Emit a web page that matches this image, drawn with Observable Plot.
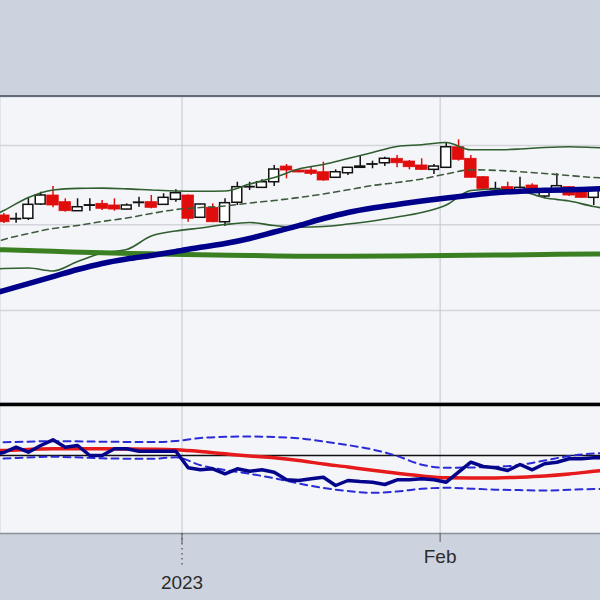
<!DOCTYPE html>
<html><head><meta charset="utf-8">
<script src="https://cdn.jsdelivr.net/npm/d3@7"></script>
<script src="https://cdn.jsdelivr.net/npm/@observablehq/plot@0.6"></script>
<style>
html,body{margin:0;padding:0;background:#cdd3de;width:600px;height:600px;overflow:hidden;font-family:"Liberation Sans",Arial,sans-serif}
#top{height:95px;border-bottom:2px solid #646b77}
svg{display:block}
</style></head><body>
<div id="top"></div><div id="upper"></div><div id="lower"></div>
<script>
// ---- candles (one per trading day, index 0..48) ----
const open  = [31.52,31.05,31.12,32.85,33.94,33.13,32.04,32.70,32.93,32.73,32.24,33.03,33.13,32.81,33.42,33.94,31.24,32.45,30.70,33.06,34.93,34.87,35.55,37.45,36.97,36.97,36.76,36.09,36.64,37.30,37.68,37.85,38.39,38.06,37.58,37.05,37.30,39.79,38.39,36.16,34.68,34.95,34.55,35.15,33.82,34.34,34.95,34.34,33.66];
const high  = [31.76,31.79,33.66,34.34,35.03,33.54,33.54,33.54,33.33,33.54,32.93,33.73,33.94,34.15,34.63,34.00,32.90,32.93,33.54,35.55,35.55,35.84,37.58,37.70,37.00,37.45,37.98,37.05,37.33,38.67,38.10,38.58,38.79,38.18,38.39,37.70,40.28,40.69,38.79,36.20,35.55,35.55,36.16,35.36,34.58,36.57,34.98,34.38,34.75];
const low   = [30.55,30.58,30.91,32.73,32.45,31.92,32.00,32.04,32.12,32.04,32.20,32.52,32.33,32.73,33.13,30.70,31.20,30.65,30.18,32.73,34.55,34.85,35.03,35.96,36.70,36.36,35.67,36.05,36.36,37.28,37.18,37.45,37.30,37.05,36.97,36.48,37.28,38.10,36.07,34.70,34.34,34.34,34.52,34.34,33.54,34.32,33.82,33.62,32.73];
const close = [30.70,31.09,32.81,33.94,32.73,32.04,32.52,32.75,32.33,32.24,32.73,33.08,32.45,33.66,34.22,31.12,32.85,30.70,33.01,34.95,34.97,35.55,37.09,36.97,36.73,36.57,35.76,36.76,37.30,37.45,37.72,38.39,37.85,37.37,37.05,37.45,39.79,38.27,36.09,34.75,34.72,34.55,34.87,34.55,34.55,35.07,33.94,33.66,34.55];

// ---- overlays (sampled at trading-day indices) ----
const bandIdx = [-1,0,2,4,6,8,10,12,14,16,18,20,22,24,26,28,30,32,34,36,38,40,42,44,46,48,49];
const bbUpper = [31.39,32.12,33.70,34.61,34.81,34.83,34.75,34.61,34.49,34.46,34.49,35.33,36.12,37.15,37.70,38.42,39.15,39.88,40.09,40.36,39.48,39.48,39.58,39.76,39.85,39.76,39.70];
const bbMid   = [28.12,28.61,29.33,29.94,30.30,30.79,31.21,31.76,32.24,32.48,32.67,33.03,33.33,33.70,34.12,34.63,35.15,35.52,35.94,36.55,37.05,36.99,36.82,36.61,36.36,36.12,36.06];
const bbLower = [24.97,25.09,25.15,24.79,25.94,26.97,27.39,29.03,29.64,30.00,30.42,30.67,30.30,30.10,30.18,30.48,30.85,31.33,31.88,32.79,34.55,34.70,34.49,33.66,33.27,32.61,32.36];
const maBlue  = [22.00,22.42,23.27,24.12,24.97,25.70,26.24,26.67,27.15,27.67,28.12,28.73,29.52,30.30,31.15,31.88,32.42,32.85,33.27,33.64,33.98,34.28,34.45,34.57,34.63,34.73,34.77];
const greenIdx = [-1,0,4,8,12,16,20,24,28,32,36,40,44,48,49];
const maGreen  = [27.39,27.36,27.18,26.99,26.87,26.75,26.67,26.59,26.58,26.61,26.66,26.72,26.79,26.86,26.87];
const priceGrid = [20, 30.39, 40];

// ---- lower indicator ----
const oscIdx = [-1,0,1,2,3,4,5,6,7,8,9,10,11,12,13,14,15,16,17,18,19,20,21,22,23,24,25,26,27,28,29,30,31,32,33,34,35,36,37,38,39,40,41,42,43,44,45,46,47,48,49];
const osc = [0.10,0.30,0.83,0.33,1.00,1.57,0.83,1.00,0.00,0.00,0.67,0.67,0.43,0.43,0.43,0.43,-1.23,-1.43,-1.33,-1.83,-1.33,-1.57,-1.43,-1.67,-2.43,-2.50,-2.33,-2.17,-3.00,-2.50,-2.60,-2.67,-2.90,-2.43,-2.43,-2.33,-2.43,-2.67,-1.67,-0.67,-1.10,-1.23,-1.50,-0.90,-1.43,-0.83,-0.67,-0.33,-0.33,-0.23,-0.20];
const sigIdx = [-1,0,4,8,12,14,16,18,20,22,24,26,28,30,32,34,36,38,40,42,44,46,48,49];
const signal = [0.47,0.50,0.67,0.67,0.63,0.57,0.40,0.17,-0.05,-0.23,-0.50,-0.85,-1.15,-1.48,-1.78,-2.05,-2.23,-2.25,-2.24,-2.17,-2.05,-1.85,-1.58,-1.45];
const envUp  = [1.32,1.33,1.43,1.38,1.34,1.45,1.75,1.87,1.90,1.85,1.73,1.40,1.04,0.60,-0.05,-0.92,-1.22,-1.20,-1.13,-0.95,-0.50,-0.05,0.20,0.25];
const envLo  = [-0.35,-0.30,-0.13,-0.28,-0.33,-0.18,-0.97,-1.45,-1.83,-2.28,-2.80,-3.25,-3.55,-3.73,-3.60,-3.32,-3.23,-3.32,-3.42,-3.46,-3.50,-3.43,-3.35,-3.33];

// ---- x-axis ticks: first candle of each period ----
const tickLabels = ["2023", "Feb"];
const tickFirst  = [15, 36];

const xDomain = [-0.27, 48.55];
const priceDomain = [8.85, 45.82];
const oscDomain = [-7.8, 5.1];
const panelBg = "#f4f5f9";
const red = "#e00d0d";

const candles = open.map((o, i) => ({i, o, h: high[i], l: low[i], c: close[i]}));
const ups = candles.filter(d => d.c >= d.o);
const downs = candles.filter(d => d.c < d.o);
const edge = d => d - 0.5;

const upper = Plot.plot({
  width: 600, height: 305, margin: 0,
  style: {background: "transparent"},
  x: {domain: xDomain, axis: null},
  y: {domain: priceDomain, axis: null},
  marks: [
    Plot.frame({fill: panelBg, stroke: null}),
    Plot.ruleY(priceGrid, {stroke: "#d3d5db", strokeWidth: 1.5}),
    Plot.ruleX(tickFirst, {x: edge, stroke: "#c3c6cc", strokeWidth: 1}),
    Plot.ruleX(downs, {x: "i", y1: "l", y2: "h", stroke: red, strokeWidth: 1.5, clip: true}),
    Plot.ruleX(ups, {x: "i", y1: "l", y2: "h", stroke: "#111", strokeWidth: 1.5, clip: true}),
    Plot.rect(downs, {x1: d => d.i - 0.5, x2: d => d.i + 0.5, y1: "o", y2: "c", insetLeft: 0.4, insetRight: 0.4, fill: red, stroke: red, strokeWidth: 0.8, clip: true}),
    Plot.rect(ups, {x1: d => d.i - 0.5, x2: d => d.i + 0.5, y1: "o", y2: "c", insetLeft: 1.2, insetRight: 1.2, fill: "#fff", stroke: "#111", strokeWidth: 1.5, clip: true}),
    Plot.line(bbUpper, {x: bandIdx, y: bbUpper, stroke: "#2f5e2f", strokeWidth: 1.6, curve: "monotone-x", clip: true}),
    Plot.line(bbLower, {x: bandIdx, y: bbLower, stroke: "#2f5e2f", strokeWidth: 1.6, curve: "monotone-x", clip: true}),
    Plot.line(bbMid, {x: bandIdx, y: bbMid, stroke: "#3d5a3d", strokeWidth: 1.6, strokeDasharray: "6,4.5", curve: "monotone-x", clip: true}),
    Plot.line(maGreen, {x: greenIdx, y: maGreen, stroke: "#3a8022", strokeWidth: 5, curve: "monotone-x", clip: true}),
    Plot.line(maBlue, {x: bandIdx, y: maBlue, stroke: "#00008b", strokeWidth: 5.5, curve: "monotone-x", clip: true})
  ]
});
document.getElementById("upper").appendChild(upper);

const lower = Plot.plot({
  width: 600, height: 198, marginTop: 2, marginBottom: 67, marginLeft: 0, marginRight: 0,
  style: {background: "transparent", fontFamily: "'Liberation Sans', Arial, sans-serif", fontSize: "19px", color: "#2b2b2b", overflow: "visible"},
  x: {domain: xDomain, axis: null},
  y: {domain: oscDomain, axis: null},
  marks: [
    Plot.frame({fill: panelBg, stroke: null}),
    Plot.ruleX(tickFirst, {x: edge, stroke: "#c3c6cc", strokeWidth: 1}),
    Plot.ruleY([0], {stroke: "#111", strokeWidth: 1.5}),
    Plot.line(envUp, {x: sigIdx, y: envUp, stroke: "#2b2bd6", strokeWidth: 2, strokeDasharray: "7,5", curve: "monotone-x", clip: true}),
    Plot.line(envLo, {x: sigIdx, y: envLo, stroke: "#2b2bd6", strokeWidth: 2, strokeDasharray: "7,5", curve: "monotone-x", clip: true}),
    Plot.line(signal, {x: sigIdx, y: signal, stroke: "#e61a1a", strokeWidth: 3.5, curve: "monotone-x", clip: true}),
    Plot.line(osc, {x: oscIdx, y: osc, stroke: "#05058c", strokeWidth: 3.5, clip: true}),
    Plot.ruleY([oscDomain[0]], {stroke: "#8b9099", strokeWidth: 1.5}),
    Plot.ruleY([oscDomain[1]], {stroke: "#000", strokeWidth: 3.5}),
    Plot.axisX([edge(tickFirst[1])], {tickFormat: () => tickLabels[1], tickSize: 9, tickPadding: 7, stroke: "#555", fill: "#2b2b2b", fontSize: 19}),
    Plot.axisX([edge(tickFirst[0])], {tickFormat: () => "", tickSize: 32, tickPadding: 0, stroke: "#666", strokeWidth: 1.5, strokeDasharray: "1.5,3.5"}),
    Plot.axisX([edge(tickFirst[0])], {tickFormat: () => tickLabels[0], tickSize: 10, tickPadding: 32, stroke: "#555", fill: "#2b2b2b", fontSize: 19})
  ]
});
document.getElementById("lower").appendChild(lower);
</script></body></html>
